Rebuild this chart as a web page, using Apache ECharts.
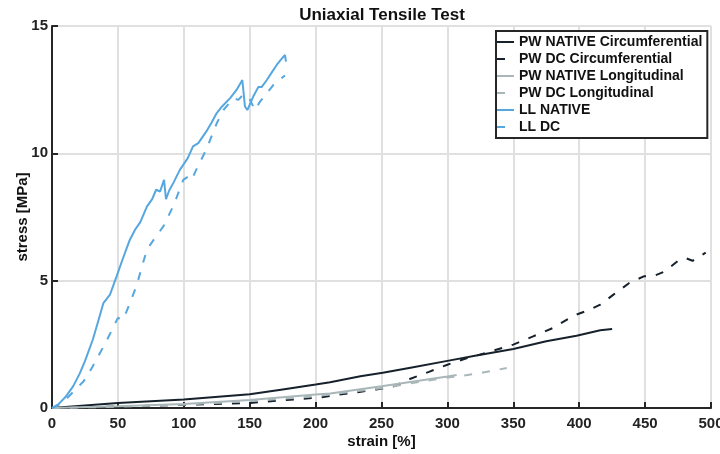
<!DOCTYPE html>
<html>
<head>
<meta charset="utf-8">
<script src="https://cdn.jsdelivr.net/npm/echarts@6/dist/echarts.min.js"></script>
<style>html,body{margin:0;padding:0;background:#fff;}#chart{width:720px;height:454px;}</style>
</head>
<body>
<div id="chart"></div>
<script>
// ---- Data (strain [%], stress [MPa]) ----
const pwNativeCircStrain = [0, 50, 100, 150, 175, 200, 211, 234, 251, 272, 300, 322, 350, 375, 398, 416, 425];
const pwNativeCircStress = [0, 0.2, 0.33, 0.54, 0.73, 0.92, 1.01, 1.25, 1.38, 1.58, 1.85, 2.06, 2.32, 2.62, 2.84, 3.05, 3.1];

const pwDcCircStrain = [0, 50, 100, 150, 204, 218, 232, 246, 260, 272, 286, 300, 315, 327, 350, 365, 380, 396, 408, 416, 426, 438, 449, 456, 465, 476, 481, 486, 496];
const pwDcCircStress = [0, 0.06, 0.12, 0.2, 0.42, 0.53, 0.62, 0.73, 0.86, 1.15, 1.42, 1.7, 1.96, 2.13, 2.49, 2.81, 3.14, 3.63, 3.86, 4.06, 4.45, 4.91, 5.17, 5.17, 5.36, 5.82, 5.88, 5.78, 6.1];

const pwNativeLongStrain = [0, 50, 100, 150, 200, 211, 250, 300, 307];
const pwNativeLongStress = [0, 0.07, 0.16, 0.31, 0.53, 0.57, 0.85, 1.24, 1.3];

const pwDcLongStrain = [0, 50, 100, 150, 200, 250, 300, 310, 330, 345];
const pwDcLongStress = [0, 0.05, 0.13, 0.27, 0.46, 0.78, 1.2, 1.25, 1.42, 1.57];

const llNativeStrain = [0, 5, 10, 16, 21, 25, 31, 35, 39, 44, 49, 54, 59, 63, 67, 72, 76, 79, 82, 85, 86.5, 89, 92, 97, 103, 107, 111, 117, 121, 125, 129, 135, 140, 144.4, 146.4, 148.2, 152.7, 156.5, 159, 163, 167, 170.5, 174, 176.8, 177.5];
const llNativeStress = [0, 0.15, 0.42, 0.85, 1.35, 1.84, 2.69, 3.4, 4.12, 4.45, 5.17, 5.9, 6.6, 7.0, 7.3, 7.91, 8.2, 8.57, 8.5, 8.96, 8.2, 8.55, 8.83, 9.35, 9.81, 10.27, 10.4, 10.85, 11.2, 11.58, 11.84, 12.16, 12.49, 12.88, 11.84, 11.7, 12.23, 12.6, 12.6, 12.88, 13.2, 13.47, 13.7, 13.86, 13.6];

const llDcStrain = [0, 5, 11, 17, 24, 30, 35, 40, 45, 50, 54, 59, 64, 68, 72, 78, 84.5, 88, 93, 99.6, 103.4, 106, 110, 117, 125, 130, 137.6, 141.4, 145, 149, 154, 157.8, 163, 168, 175.5, 176.8];
const llDcStress = [0, 0.12, 0.36, 0.68, 1.05, 1.55, 2.03, 2.5, 3.01, 3.54, 3.47, 4.1, 4.78, 5.5, 6.22, 6.67, 7.13, 7.5, 8.05, 8.96, 9.09, 8.96, 9.42, 10.14, 11.18, 11.7, 12.16, 12.1, 12.3, 12.23, 11.7, 12.03, 12.36, 12.69, 13.01, 13.05];

const seriesNames = ['PW NATIVE Circumferential', 'PW DC Circumferential', 'PW NATIVE Longitudinal', 'PW DC Longitudinal', 'LL NATIVE', 'LL DC'];
const xTicks = {min: 0, max: 500, interval: 50};
const yTicks = {min: 0, max: 15, interval: 5};

// ---- Build ----
function pairs(xs, ys) { return xs.map((x, i) => [x, ys[i]]); }
const DARK = '#16212c', GRAY = '#a9b7b9', BLUE = '#56a7df';
const FONT = 'Liberation Sans, Arial, sans-serif';
function line(name, xs, ys, color, dashed) {
  return {
    name, type: 'line', data: pairs(xs, ys), showSymbol: false, symbol: 'none',
    smooth: false, animation: false,
    lineStyle: {color, width: 2, type: dashed ? [8, 10] : 'solid'},
    itemStyle: {color}
  };
}
const chart = echarts.init(document.getElementById('chart'), null, {renderer: 'canvas'});
chart.setOption({
  animation: false,
  backgroundColor: '#fff',
  title: {
    text: 'Uniaxial Tensile Test', left: 377, top: 2, textAlign: 'center',
    textStyle: {fontFamily: FONT, fontWeight: 'bold', fontSize: 17, color: '#111'}
  },
  grid: {left: 52, right: 9, top: 26, bottom: 46, containLabel: false, outerBoundsMode: 'none'},
  legend: {
    orient: 'vertical', left: 496, top: 31,
    data: seriesNames,
    itemWidth: 17, itemHeight: 14, itemGap: 3,
    padding: [4, 5, 4, 0],
    borderColor: '#262626', borderWidth: 2, backgroundColor: '#fff',
    itemStyle: {opacity: 0},
    textStyle: {fontFamily: FONT, fontWeight: 'bold', fontSize: 14, color: '#111'}
  },
  xAxis: {
    type: 'value', min: xTicks.min, max: xTicks.max, interval: xTicks.interval,
    name: 'strain [%]', nameLocation: 'middle', nameGap: 26, nameMoveOverlap: false,
    nameTextStyle: {fontFamily: FONT, fontWeight: 'bold', fontSize: 15, color: '#111'},
    axisLine: {show: true, onZero: false, lineStyle: {color: '#262626', width: 2}},
    axisTick: {show: true, inside: true, length: 6, lineStyle: {color: '#262626', width: 2}},
    axisLabel: {fontFamily: FONT, fontWeight: 'bold', fontSize: 15, color: '#222', margin: 8},
    splitLine: {show: true, lineStyle: {color: '#e0e0e0', width: 2}}
  },
  yAxis: {
    type: 'value', min: yTicks.min, max: yTicks.max, interval: yTicks.interval,
    name: 'stress [MPa]', nameLocation: 'middle', nameGap: 22, nameMoveOverlap: false,
    nameTextStyle: {fontFamily: FONT, fontWeight: 'bold', fontSize: 15, color: '#111'},
    axisLine: {show: true, onZero: false, lineStyle: {color: '#262626', width: 2}},
    axisTick: {show: true, inside: true, length: 6, lineStyle: {color: '#262626', width: 2}},
    axisLabel: {fontFamily: FONT, fontWeight: 'bold', fontSize: 15, color: '#222', margin: 4},
    splitLine: {show: true, lineStyle: {color: '#e0e0e0', width: 2}}
  },
  series: [
    line(seriesNames[0], pwNativeCircStrain, pwNativeCircStress, DARK, false),
    line(seriesNames[1], pwDcCircStrain, pwDcCircStress, DARK, true),
    line(seriesNames[2], pwNativeLongStrain, pwNativeLongStress, GRAY, false),
    line(seriesNames[3], pwDcLongStrain, pwDcLongStress, GRAY, true),
    line(seriesNames[4], llNativeStrain, llNativeStress, BLUE, false),
    line(seriesNames[5], llDcStrain, llDcStress, BLUE, true)
  ]
});
</script>
</body>
</html>
